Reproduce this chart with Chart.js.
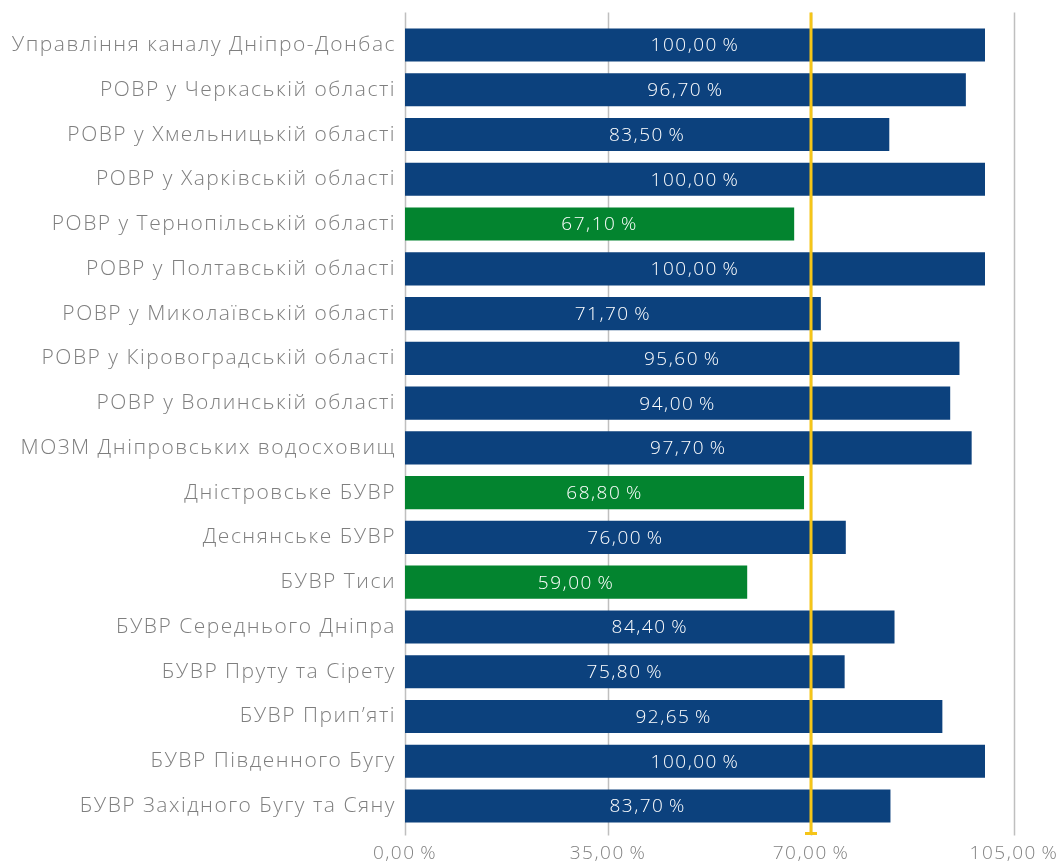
<!DOCTYPE html>
<html>
<head>
<meta charset="utf-8">
<script src="https://cdn.jsdelivr.net/npm/chart.js@4/dist/chart.umd.min.js"></script>
<style>
  html, body { margin: 0; padding: 0; background: #fff; }
  #wrap { width: 1059px; height: 864px; }
</style>
</head>
<body>
<div id="wrap"><canvas id="bars"></canvas></div>
<script>
const categories = [
  'Управління каналу Дніпро-Донбас',
  'РОВР у Черкаській області',
  'РОВР у Хмельницькій області',
  'РОВР у Харківській області',
  'РОВР у Тернопільській області',
  'РОВР у Полтавській області',
  'РОВР у Миколаївській області',
  'РОВР у Кіровоградській області',
  'РОВР у Волинській області',
  'МОЗМ Дніпровських водосховищ',
  'Дністровське БУВР',
  'Деснянське БУВР',
  'БУВР Тиси',
  'БУВР Середнього Дніпра',
  'БУВР Пруту та Сірету',
  'БУВР Прип’яті',
  'БУВР Південного Бугу',
  'БУВР Західного Бугу та Сяну'
];
const values = [100, 96.7, 83.5, 100, 67.1, 100, 71.7, 95.6, 94, 97.7, 68.8, 76, 59, 84.4, 75.8, 92.65, 100, 83.7];
const xTicks = [0, 35, 70, 105];
const threshold = 70;

const BLUE = '#0c417d', GREEN = '#03842f', YELLOW = '#f5c518', GRID = '#bfbfbf';
const FONT = '"Open Sans", sans-serif';

function pct(v) {
  return v.toFixed(2).replace('.', ',') + '\u2009%';
}

// the original font is much wider, so space the letters out a bit
const spacing = {
  id: 'spacing',
  beforeDraw(chart) { chart.ctx.letterSpacing = '1.5px'; },
  beforeDatasetsDraw(chart) { chart.ctx.letterSpacing = '1.5px'; }
};

// vertical grid lines, a bit taller than the bar area
const gridLines = {
  id: 'gridLines',
  beforeDatasetsDraw(chart) {
    const { ctx, chartArea, scales } = chart;
    ctx.save();
    ctx.strokeStyle = GRID;
    ctx.lineWidth = 1.5;
    xTicks.forEach(t => {
      const x = Math.round(scales.x.getPixelForValue(t)) + 0.5;
      ctx.beginPath();
      ctx.moveTo(x, chartArea.top - 10);
      ctx.lineTo(x, chartArea.bottom + 7);
      ctx.stroke();
    });
    ctx.restore();
  }
};

// labels inside the bars + the 70 % target line
const overlay = {
  id: 'overlay',
  afterDatasetsDraw(chart) {
    const { ctx, chartArea, scales } = chart;
    const meta = chart.getDatasetMeta(0);
    ctx.save();
    ctx.fillStyle = '#fff';
    ctx.font = '300 19px ' + FONT;
    ctx.letterSpacing = '1.5px';
    ctx.textAlign = 'center';
    ctx.textBaseline = 'middle';
    meta.data.forEach((bar, i) => {
      ctx.fillText(pct(values[i]), (bar.x + bar.base) / 2, bar.y + 1);
    });

    const x = scales.x.getPixelForValue(threshold);
    const y0 = chartArea.top - 10, y1 = chartArea.bottom + 5;
    ctx.strokeStyle = YELLOW;
    ctx.lineWidth = 3;
    ctx.beginPath();
    ctx.moveTo(x, y0);
    ctx.lineTo(x, y1);
    ctx.moveTo(x - 6, y1);
    ctx.lineTo(x + 6, y1);
    ctx.stroke();
    ctx.restore();
  }
};

new Chart(document.getElementById('bars'), {
  type: 'bar',
  data: {
    labels: categories,
    datasets: [{
      data: values,
      backgroundColor: values.map(v => v < threshold ? GREEN : BLUE),
      categoryPercentage: 1,
      barPercentage: 0.74
    }]
  },
  options: {
    indexAxis: 'y',
    responsive: true,
    maintainAspectRatio: false,
    animation: false,
    layout: { padding: { top: 22.6, right: 45, bottom: 0, left: 0 } },
    plugins: { legend: { display: false }, tooltip: { enabled: false } },
    scales: {
      x: {
        min: 0,
        max: 105,
        afterBuildTicks(scale) { scale.ticks = xTicks.map(v => ({ value: v })); },
        afterFit(scale) {
          scale.height = 35.6;
          scale.paddingLeft = 0;
          scale.paddingRight = 0;
        },
        grid: { display: false, drawTicks: false },
        border: { display: false },
        ticks: {
          color: '#808080',
          font: { family: FONT, size: 19, weight: 300 },
          padding: 14,
          maxRotation: 0,
          callback: v => pct(v)
        }
      },
      y: {
        afterFit(scale) {
          scale.width = 405;
          scale.paddingTop = 0;
          scale.paddingBottom = 0;
        },
        grid: { display: false, drawTicks: false },
        border: { display: false },
        ticks: {
          color: '#7f7f7f',
          font: { family: FONT, size: 21, weight: 300 },
          padding: 9
        }
      }
    }
  },
  plugins: [spacing, gridLines, overlay]
});
</script>
</body>
</html>
